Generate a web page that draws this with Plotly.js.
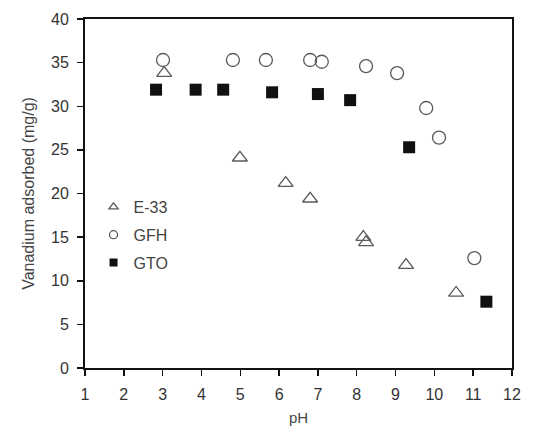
<!DOCTYPE html>
<html>
<head>
<meta charset="utf-8">
<script src="https://cdn.plot.ly/plotly-3.0.1.min.js"></script>
<style>html,body{margin:0;padding:0;background:#fff;}#chart{width:540px;height:437px;}</style>
</head>
<body>
<div id="chart"></div>
<script>
// E-33
var e33_pH = [3.04, 4.99, 6.17, 6.80, 8.17, 8.24, 9.27, 10.56];
var e33_V  = [33.8, 24.1, 21.2, 19.4, 15.0, 14.4, 11.8, 8.6];
// GFH
var gfh_pH = [3.01, 4.81, 5.66, 6.80, 7.10, 8.24, 9.04, 9.79, 10.12, 11.03];
var gfh_V  = [35.3, 35.3, 35.3, 35.3, 35.1, 34.6, 33.8, 29.8, 26.4, 12.6];
// GTO
var gto_pH = [2.83, 3.85, 4.56, 5.82, 7.00, 7.83, 9.35, 11.34];
var gto_V  = [31.9, 31.9, 31.9, 31.6, 31.4, 30.7, 25.3, 7.6];

var seriesNames = ["E-33", "GFH", "GTO"];
var xTicks = [1,2,3,4,5,6,7,8,9,10,11,12];
var yTicks = [0,5,10,15,20,25,30,35,40];

var grey = "#5a5a5a";
var traces = [
  {x: e33_pH, y: e33_V, mode: "markers", type: "scatter", showlegend: false,
   marker: {symbol: "triangle-up-open", size: 13, color: grey, line: {width: 1.3, color: grey}}},
  {x: gfh_pH, y: gfh_V, mode: "markers", type: "scatter", showlegend: false,
   marker: {symbol: "circle-open", size: 13, color: grey, line: {width: 1.3, color: grey}}},
  {x: gto_pH, y: gto_V, mode: "markers", type: "scatter", showlegend: false,
   marker: {symbol: "square", size: 12, color: "#111"}},
  // legend entries
  {x: [null], y: [null], name: seriesNames[0], mode: "markers", legendgroup: "a",
   marker: {symbol: "triangle-up-open", size: 8, color: grey, line: {width: 1.3, color: grey}}},
  {x: [null], y: [null], name: seriesNames[1], mode: "markers", legendgroup: "b",
   marker: {symbol: "circle-open", size: 8, color: grey, line: {width: 1.3, color: grey}}},
  {x: [null], y: [null], name: seriesNames[2], mode: "markers", legendgroup: "c",
   marker: {symbol: "square", size: 8, color: "#111"}}
];

var layout = {
  width: 540, height: 437,
  margin: {l: 85, r: 28, t: 19, b: 69},
  paper_bgcolor: "#fff", plot_bgcolor: "#fff",
  font: {family: "Liberation Sans, Arial, sans-serif", size: 16, color: "#333"},
  showlegend: true,
  legend: {x: 0.02, y: 0.51, xanchor: "left", yanchor: "top", bgcolor: "rgba(0,0,0,0)",
           font: {size: 16, color: "#444"}, tracegroupgap: 4, itemwidth: 30},
  xaxis: {range: [1, 12], tickvals: xTicks, ticktext: xTicks.map(String),
          showgrid: false, zeroline: false, showline: true, linecolor: "#111", linewidth: 2,
          mirror: true, ticks: "outside", ticklen: 6, tickwidth: 1.5, tickcolor: "#111",
          ticklabelstandoff: 5, tickfont: {size: 16, color: "#333"},
          title: {text: "pH", font: {size: 15, color: "#444"}, standoff: 10}},
  yaxis: {range: [0, 40], tickvals: yTicks, ticktext: yTicks.map(String),
          showgrid: false, zeroline: false, showline: true, linecolor: "#111", linewidth: 2,
          mirror: true, ticks: "outside", ticklen: 6, tickwidth: 1.5, tickcolor: "#111",
          ticklabelstandoff: 5, tickfont: {size: 16, color: "#333"},
          title: {text: "Vanadium adsorbed (mg/g)", font: {size: 16, color: "#444"}, standoff: 12}}
};

Plotly.newPlot("chart", traces, layout, {displayModeBar: false, staticPlot: true});
</script>
</body>
</html>
